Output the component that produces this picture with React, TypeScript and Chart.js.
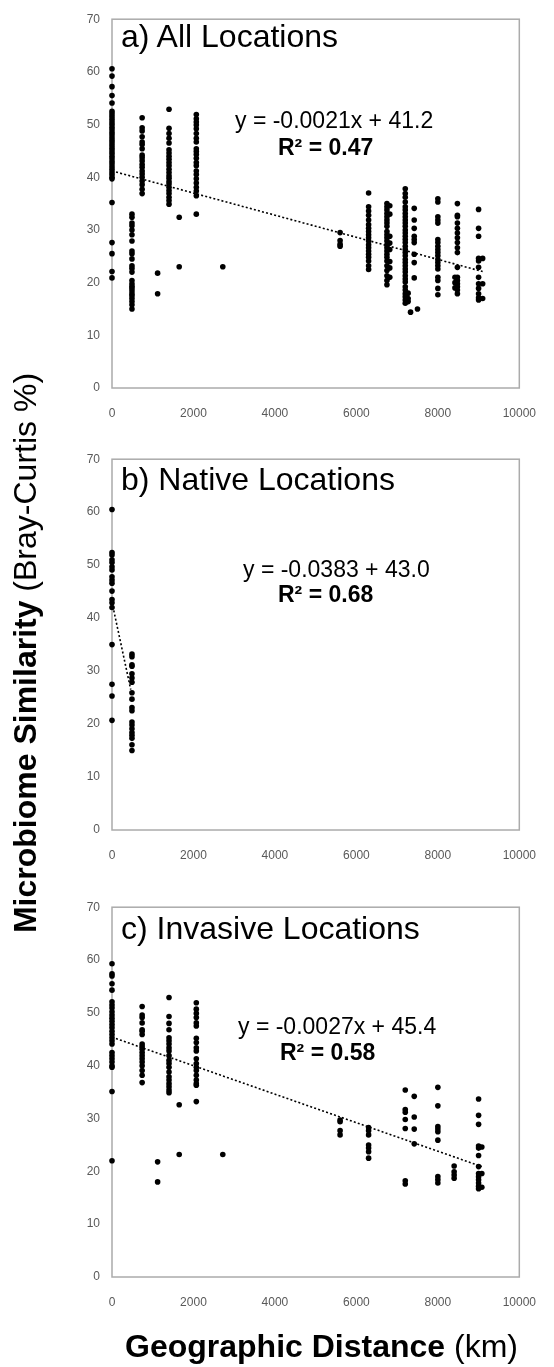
import React, { useEffect, useRef } from "react";
import { Chart, registerables } from "chart.js";

Chart.register(...registerables);

const FONT = "'Liberation Sans', Arial, Helvetica, sans-serif";

// ---- axes ----
const X_TICKS = [0, 2000, 4000, 6000, 8000, 10000];
const Y_TICKS = [0, 10, 20, 30, 40, 50, 60, 70];

// ---- a) All Locations ----
const allDist = [0, 490, 740, 1120, 1400, 1650, 2070, 2720, 5600, 6300, 6750, 6820, 7200, 7270, 7330, 7420, 7500, 8000, 8420, 8480, 9000, 9100];
const allSim = [
  [60.6, 59.2, 57.2, 55.5, 54.1, 52.5, 52.0, 51.5, 51.0, 50.5, 50.0, 49.5, 49.0, 48.5, 48.0, 47.5, 47.0, 46.5, 46.0, 45.5, 45.0, 44.5, 44.0, 43.5, 43.0, 42.5, 42.0, 41.5, 41.0, 40.5, 40.0, 39.7, 35.2, 27.6, 25.5, 22.1, 20.9],
  [33.0, 32.4, 31.3, 30.8, 30.0, 29.1, 27.9, 26.0, 25.5, 24.5, 23.2, 22.7, 22.0, 20.4, 19.8, 19.3, 18.9, 18.4, 17.9, 17.5, 17.0, 16.4, 15.8, 15.0],
  [51.3, 49.4, 48.8, 47.7, 46.7, 46.2, 45.4, 44.2, 43.7, 43.1, 42.4, 41.9, 41.2, 40.6, 40.0, 39.3, 38.6, 37.7, 36.9],
  [21.8, 17.9],
  [52.9, 49.3, 48.3, 47.4, 46.5, 45.2, 44.6, 44.0, 43.4, 42.8, 42.2, 41.5, 40.9, 40.3, 39.8, 39.2, 38.7, 38.1, 37.5, 36.9, 36.2, 35.6, 34.9],
  [32.4, 23.0],
  [51.9, 51.1, 50.5, 49.9, 49.2, 48.3, 47.4, 46.7, 45.4, 44.9, 44.3, 43.6, 42.8, 42.2, 41.2, 40.5, 39.7, 38.9, 38.1, 37.4, 36.5, 33.0],
  [23.0],
  [29.5, 28.0, 27.3, 26.9],
  [37.0, 34.4, 33.6, 32.8, 31.9, 31.0, 30.3, 29.7, 29.1, 28.5, 27.9, 27.2, 26.6, 26.0, 25.4, 24.8, 24.1, 23.2, 22.5],
  [35.0, 34.4, 33.8, 33.1, 32.5, 31.9, 31.3, 30.7, 29.7, 29.1, 28.5, 27.9, 27.2, 26.6, 26.0, 25.4, 24.8, 24.1, 23.2, 22.3, 21.3, 20.4, 19.6],
  [34.6, 33.0, 28.8, 27.5, 26.3, 24.0, 22.8, 21.0],
  [37.8, 36.9, 36.2, 35.3, 34.4, 33.8, 33.1, 32.5, 31.9, 31.3, 30.7, 30.0, 29.4, 28.8, 28.2, 27.6, 26.9, 26.3, 25.7, 25.1, 24.4, 23.8, 23.2, 22.6, 22.0, 21.3, 20.7, 20.1, 19.2, 18.6, 17.9, 17.3, 16.7, 16.1],
  [18.0, 17.0, 16.4],
  [14.4],
  [34.1, 31.9, 30.3, 28.8, 28.2, 27.6, 25.4, 23.8, 20.9],
  [15.0],
  [35.9, 35.3, 32.5, 31.9, 31.3, 28.2, 27.6, 26.9, 26.3, 25.7, 25.1, 24.4, 23.8, 23.2, 22.6, 21.0, 20.4, 18.9, 17.7],
  [21.0, 20.0, 19.0],
  [35.0, 32.8, 32.5, 31.3, 30.3, 29.4, 28.5, 27.6, 26.6, 25.7, 22.9, 21.0, 20.4, 19.8, 19.2, 18.6, 17.9],
  [33.9, 30.3, 28.8, 24.6, 24.1, 22.9, 21.0, 19.8, 18.9, 17.9, 17.1, 16.7],
  [24.6, 19.8, 17.0],
];
const allTrendX = [0, 9100];
const allTrendY = [41.2, 22.1];

// ---- b) Native Locations ----
const nativeDist = [0, 490];
const nativeSim = [
  [60.5, 52.4, 51.9, 51.0, 50.5, 49.7, 49.1, 47.8, 47.2, 46.6, 45.1, 43.5, 42.9, 42.0, 35.0, 27.5, 25.3, 20.7],
  [33.2, 32.7, 31.2, 30.9, 29.5, 28.7, 27.9, 25.9, 24.7, 23.1, 22.5, 20.4, 19.8, 19.1, 18.4, 17.9, 17.3, 16.1, 15.0],
];
const nativeTrendX = [0, 460];
const nativeTrendY = [43.0, 26.5];

// ---- c) Invasive Locations ----
const invasiveDist = [0, 740, 1120, 1400, 1650, 2070, 2720, 5600, 6300, 7200, 7420, 8000, 8400, 9000, 9080];
const invasiveSim = [
  [59.3, 57.4, 57.0, 55.5, 54.3, 52.1, 51.5, 50.9, 50.2, 49.6, 49.0, 48.4, 47.8, 47.2, 46.5, 45.9, 45.3, 44.7, 44.1, 42.5, 41.9, 41.3, 40.7, 40.0, 39.7, 35.1, 22.0],
  [51.2, 49.6, 49.1, 48.1, 46.8, 46.5, 45.9, 44.1, 43.6, 43.1, 42.5, 41.9, 41.3, 40.7, 40.0, 39.1, 38.2, 36.8],
  [21.8, 18.0],
  [52.9, 49.3, 48.0, 46.8, 45.3, 44.7, 44.1, 43.4, 42.8, 41.9, 41.0, 40.4, 39.7, 38.8, 37.9, 37.3, 36.6, 36.0, 35.4, 34.9],
  [32.6, 23.2],
  [51.9, 50.7, 49.9, 49.1, 48.1, 47.5, 45.2, 44.4, 43.4, 42.8, 41.3, 40.4, 39.7, 39.1, 38.2, 37.3, 36.6, 36.3, 33.2],
  [23.2],
  [29.7, 29.4, 27.7, 26.9],
  [28.3, 27.7, 26.9, 25.0, 24.4, 23.7, 22.5],
  [35.4, 31.7, 31.2, 29.8, 28.1, 18.2, 17.6],
  [34.2, 30.3, 28.0, 25.2],
  [35.9, 32.4, 28.5, 28.0, 27.5, 25.9, 19.0, 18.4, 17.8],
  [21.0, 19.9, 19.3, 18.7],
  [33.7, 30.6, 28.9, 24.8, 24.4, 23.0, 20.9, 19.6, 19.0, 18.4, 17.8, 17.2, 16.7],
  [24.6, 19.6, 17.0],
];
const invasiveTrendX = [0, 9080];
const invasiveTrendY = [45.4, 20.9];

// ---- layout ----
const W = 554;
const H = 1367;
const PLOT_LEFT = 112;
const PLOT_RIGHT = 531;
const PAD_TOP = 12;
const X_AXIS_H = 45;

const framePlugin = {
  id: "frame",
  beforeDatasetsDraw(chart: any) {
    const { ctx, chartArea } = chart;
    const { left, top, right, bottom } = chartArea;
    ctx.save();
    ctx.strokeStyle = "#ababab";
    ctx.lineWidth = 1.5;
    ctx.strokeRect(left, top, right - left, bottom - top);
    ctx.restore();
  },
};

type PanelProps = {
  dist: number[];
  sim: number[][];
  trendX: number[];
  trendY: number[];
  plotTop: number;
  plotBottom: number;
};

const hiddenAxis = (pos: string, size: number) => ({
  type: "linear",
  position: pos,
  display: true,
  min: 0,
  max: 1,
  grid: { display: false, drawTicks: false },
  border: { display: false },
  ticks: { display: false },
  afterFit: (s: any) => {
    if (pos === "top" || pos === "bottom") s.height = size;
    else s.width = size;
  },
});

function Panel({ dist, sim, trendX, trendY, plotTop, plotBottom }: PanelProps) {
  const ref = useRef<HTMLCanvasElement>(null);
  const canvasTop = plotTop - PAD_TOP;
  const canvasH = plotBottom - plotTop + PAD_TOP + X_AXIS_H;

  useEffect(() => {
    if (!ref.current) return;
    const points = dist.flatMap((d, i) => sim[i].map((v) => ({ x: d, y: v })));
    const trend = trendX.map((x, i) => ({ x, y: trendY[i] }));
    const tickStyle = {
      color: "#595959",
      font: { family: FONT, size: 12 },
      callback: (v: any) => String(v),
      autoSkip: false,
    };
    const chart = new Chart(ref.current, {
      type: "scatter",
      data: {
        datasets: [
          {
            type: "line",
            data: trend,
            borderColor: "#000",
            borderWidth: 1.6,
            borderDash: [2, 2.2],
            pointRadius: 0,
            fill: false,
            showLine: true,
            clip: false,
          } as any,
          {
            data: points,
            pointRadius: 2.8,
            pointHoverRadius: 2.8,
            backgroundColor: "#000",
            borderWidth: 0,
            clip: false,
          } as any,
        ],
      },
      options: {
        animation: false,
        responsive: false,
        maintainAspectRatio: false,
        events: [],
        layout: { padding: 0 },
        plugins: { legend: { display: false }, tooltip: { enabled: false }, title: { display: false } },
        scales: {
          x: {
            type: "linear",
            position: "bottom",
            min: X_TICKS[0],
            max: X_TICKS[X_TICKS.length - 1],
            afterBuildTicks: (s: any) => {
              s.ticks = X_TICKS.map((v) => ({ value: v }));
            },
            afterFit: (s: any) => {
              s.height = X_AXIS_H;
            },
            grid: { display: false, drawTicks: false },
            border: { display: false },
            ticks: { ...tickStyle, padding: 18, maxRotation: 0 },
          },
          y: {
            type: "linear",
            position: "left",
            min: Y_TICKS[0],
            max: Y_TICKS[Y_TICKS.length - 1],
            afterBuildTicks: (s: any) => {
              s.ticks = Y_TICKS.map((v) => ({ value: v }));
            },
            afterFit: (s: any) => {
              s.width = PLOT_LEFT;
            },
            grid: { display: false, drawTicks: false },
            border: { display: false },
            ticks: { ...tickStyle, padding: 12 },
          },
          xTop: hiddenAxis("top", PAD_TOP),
          yRight: hiddenAxis("right", W - PLOT_RIGHT),
        },
      } as any,
      plugins: [framePlugin],
    });
    return () => chart.destroy();
  }, []);

  return (
    <canvas
      ref={ref}
      width={W}
      height={canvasH}
      style={{ position: "absolute", left: 0, top: canvasTop, width: W, height: canvasH }}
    />
  );
}

const PANELS = [
  { dist: allDist, sim: allSim, trendX: allTrendX, trendY: allTrendY, plotTop: 12, plotBottom: 388 },
  { dist: nativeDist, sim: nativeSim, trendX: nativeTrendX, trendY: nativeTrendY, plotTop: 452, plotBottom: 830 },
  { dist: invasiveDist, sim: invasiveSim, trendX: invasiveTrendX, trendY: invasiveTrendY, plotTop: 900, plotBottom: 1277 },
];

const TITLES = [
  { text: "a) All Locations", x: 121, y: 47 },
  { text: "b) Native Locations", x: 121, y: 490 },
  { text: "c) Invasive Locations", x: 121, y: 939 },
];

const EQUATIONS = [
  { eq: "y = -0.0021x + 41.2", r2: "R² = 0.47", ex: 235, ey: 128, rx: 278, ry: 155 },
  { eq: "y = -0.0383 + 43.0", r2: "R² = 0.68", ex: 243, ey: 577, rx: 278, ry: 602 },
  { eq: "y = -0.0027x + 45.4", r2: "R² = 0.58", ex: 238, ey: 1034, rx: 280, ry: 1060 },
];

export default function App() {
  return (
    <div style={{ position: "absolute", left: 0, top: 0, width: W, height: H, background: "#fff", overflow: "hidden" }}>
      {PANELS.map((p, i) => (
        <Panel key={i} {...p} />
      ))}
      <svg
        width={W}
        height={H}
        style={{ position: "absolute", left: 0, top: 0, pointerEvents: "none" }}
        fontFamily={FONT}
      >
        {TITLES.map((t, i) => (
          <text key={"t" + i} x={t.x} y={t.y} fontSize={32} fill="#000">
            {t.text}
          </text>
        ))}
        {EQUATIONS.map((e, i) => (
          <g key={"e" + i}>
            <text x={e.ex} y={e.ey} fontSize={23} fill="#000">
              {e.eq}
            </text>
            <text x={e.rx} y={e.ry} fontSize={23} fontWeight="bold" fill="#000">
              {e.r2}
            </text>
          </g>
        ))}
        <text transform="translate(36,653) rotate(-90)" textAnchor="middle" fontSize={32} fill="#000">
          <tspan fontWeight="bold">Microbiome Similarity</tspan>
          <tspan> (Bray-Curtis %)</tspan>
        </text>
        <text x={321.5} y={1357} textAnchor="middle" fontSize={32} fill="#000">
          <tspan fontWeight="bold">Geographic Distance</tspan>
          <tspan> (km)</tspan>
        </text>
      </svg>
    </div>
  );
}
